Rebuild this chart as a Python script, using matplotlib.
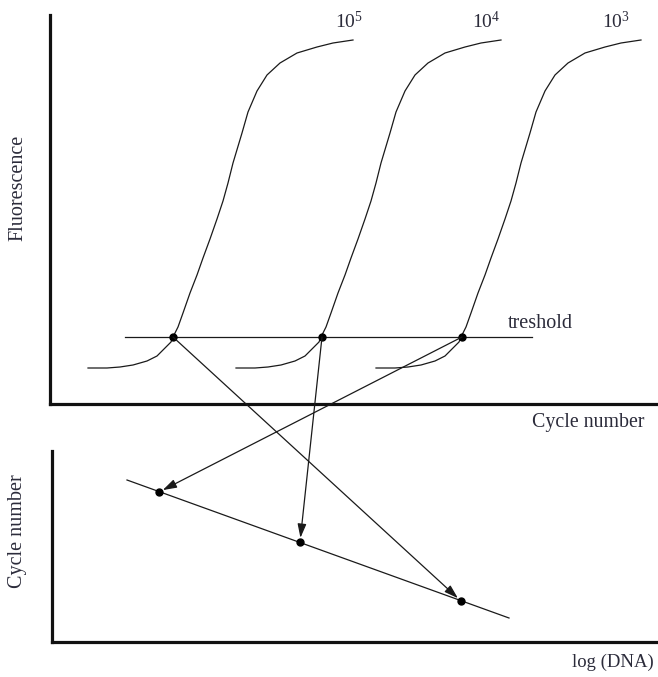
import matplotlib
matplotlib.use("Agg")
import matplotlib.pyplot as plt
from matplotlib.patches import ConnectionPatch

plt.rcParams["font.family"] = ["Liberation Serif", "DejaVu Serif"]
plt.rcParams["mathtext.fontset"] = "custom"
plt.rcParams["mathtext.rm"] = "Liberation Serif"
plt.rcParams["mathtext.it"] = "Liberation Serif:italic"

INK = "#1a1a1a"
TXT = "#2b2b3a"

# Amplification curve template (cycle, fluorescence) for the most concentrated sample
curve_cycle = [88, 107, 120, 133, 147, 157, 165, 171, 173, 178, 183, 190,
               197, 203, 210, 217, 223, 228, 233, 242, 248, 257, 267, 280,
               297, 317, 333, 353]
curve_fluor = [36, 36, 37, 39, 43, 48, 56, 62, 67, 77, 91, 111,
               129, 146, 165, 185, 203, 221, 241, 271, 292, 313, 329, 341,
               351, 357, 361, 364]

# Horizontal shift of each dilution's curve, its label and where the label ends
sample_labels = [r"10$^{5}$", r"10$^{4}$", r"10$^{3}$"]
sample_shift = [0, 148, 288]
label_right = [363, 500, 630]

# Threshold level and the threshold crossings (Ct)
threshold = 67
threshold_span = [125, 532]
ct_cycle = [173, 322, 462]

# Standard curve: log(DNA) position and cycle number of each sample
log_dna = [461, 300, 159]
ct_value = [41, 100, 150]
fit_x = [127, 509]
fit_y = [162, 24]

fig = plt.figure(figsize=(6.58, 6.77), dpi=100)
W, H = 658, 677

# Amplification plot
ax1 = fig.add_axes([50 / W, 1 - 404 / H, (W - 50) / W, (404 - 15) / H])
ax1.set_xlim(50, 658)
ax1.set_ylim(0, 389)

# Standard curve
ax2 = fig.add_axes([52 / W, 1 - 642 / H, (W - 52) / W, (642 - 451) / H])
ax2.set_xlim(52, 658)
ax2.set_ylim(0, 191)

for ax in (ax1, ax2):
    ax.patch.set_visible(False)
    ax.set_xticks([])
    ax.set_yticks([])
    for side in ("top", "right"):
        ax.spines[side].set_visible(False)
    for side in ("left", "bottom"):
        ax.spines[side].set_linewidth(2.3)
        ax.spines[side].set_color("#111111")

for label, shift, lx in zip(sample_labels, sample_shift, label_right):
    xs = [c + shift for c in curve_cycle]
    ax1.plot(xs, curve_fluor, color=INK, lw=0.9, solid_joinstyle="round")
    ax1.text(lx, curve_fluor[-1] + 12, label, fontsize=14,
             color=TXT, ha="right", va="baseline")

ax1.plot(threshold_span, [threshold, threshold], color=INK, lw=0.9)
ax1.plot(ct_cycle, [threshold] * 3, "o", color="black", ms=5)
ax1.text(508, threshold + 4, "treshold", fontsize=14.5, color=TXT,
         ha="left", va="bottom")

ax2.plot(fit_x, fit_y, color=INK, lw=0.9)
ax2.plot(log_dna, ct_value, "o", color="black", ms=5)

# Each threshold crossing is carried down to its point on the standard curve
for ct, xd, yd in zip(ct_cycle, log_dna, ct_value):
    con = ConnectionPatch(xyA=(ct, threshold), coordsA=ax1.transData,
                          xyB=(xd, yd), coordsB=ax2.transData,
                          arrowstyle="-|>,head_length=0.7,head_width=0.22",
                          shrinkA=0, shrinkB=3, color=INK, lw=0.9,
                          mutation_scale=12)
    fig.add_artist(con)

fig.text(18 / W, 1 - 188 / H, "Fluorescence", rotation=90, fontsize=14.5,
         color=TXT, ha="center", va="center")
fig.text(18 / W, 1 - 531 / H, "Cycle number", rotation=90, fontsize=14.5,
         color=TXT, ha="center", va="center")
fig.text(532 / W, 1 - 423 / H, "Cycle number", fontsize=14.3, color=TXT,
         ha="left", va="center")
fig.text(572 / W, 1 - 662 / H, "log (DNA)", fontsize=13.5, color=TXT,
         ha="left", va="center")

fig.savefig("out.png", dpi=100, facecolor="white")
